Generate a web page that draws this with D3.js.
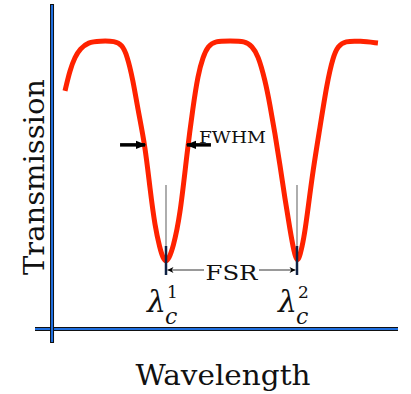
<!DOCTYPE html>
<html>
<head>
<meta charset="utf-8">
<script src="https://cdn.jsdelivr.net/npm/d3@7"></script>
<style>
  body { margin: 0; background: #fff; }
  svg text { font-family: "DejaVu Serif", "Liberation Serif", serif; fill: #111; }
</style>
</head>
<body>
<div id="chart"></div>
<script>
// wavelength (in units of FSR, troughs at 1 and 2)
var wavelength = [0.229, 0.267, 0.305, 0.344, 0.405, 0.496, 0.611, 0.664, 0.702, 0.748,
  0.786, 0.840, 0.878, 0.916, 0.954, 0.977, 1.0, 1.023, 1.053, 1.107,
  1.160, 1.206, 1.244, 1.282, 1.321, 1.374, 1.489, 1.603, 1.656, 1.702,
  1.756, 1.794, 1.832, 1.870, 1.908, 1.947, 1.977, 2.0, 2.023, 2.053,
  2.076, 2.122, 2.176, 2.229, 2.275, 2.313, 2.366, 2.481, 2.618];
var transmission = [0.774, 0.869, 0.928, 0.964, 0.995, 1.0, 1.0, 0.982, 0.937, 0.824,
  0.688, 0.529, 0.330, 0.160, 0.060, 0.018, 0, 0.018, 0.063, 0.204,
  0.493, 0.701, 0.846, 0.928, 0.977, 1.0, 1.0, 1.0, 0.977, 0.937,
  0.824, 0.710, 0.580, 0.440, 0.285, 0.145, 0.045, 0, 0.027, 0.109,
  0.204, 0.416, 0.611, 0.810, 0.928, 0.977, 1.0, 1.0, 0.991];
var resonances = [1, 2];
var resonanceLabels = ["1", "2"];
var fwhmLevel = 0.53;
var fwhmEdges = [0.840, 1.160];

var width = 411, height = 394;

var svg = d3.select("#chart").append("svg")
  .attr("width", width)
  .attr("height", height);

var defs = svg.append("defs");
defs.append("marker")
  .attr("id", "thick")
  .attr("viewBox", "0 0 10 10")
  .attr("refX", 9).attr("refY", 5)
  .attr("markerWidth", 3).attr("markerHeight", 3)
  .attr("markerUnits", "strokeWidth")
  .attr("orient", "auto")
  .append("path").attr("d", "M0,1 L10,5 L0,9 Z").attr("fill", "#000");
defs.append("marker")
  .attr("id", "thin")
  .attr("viewBox", "0 0 10 10")
  .attr("refX", 10).attr("refY", 5)
  .attr("markerWidth", 8).attr("markerHeight", 6)
  .attr("markerUnits", "userSpaceOnUse")
  .attr("orient", "auto-start-reverse")
  .append("path").attr("d", "M0,0 L10,5 L0,10 L3,5 Z").attr("fill", "#000");

///////////////////////
// Scales
var x = d3.scaleLinear().domain([0, 2.771]).range([35, 398]);
var y = d3.scaleLinear().domain([0, 1]).range([262, 41]);

var axisX = 0.13, axisY = -0.303;

///////////////////////
// Axes (blue line with dark outline)
function axisLine(x1, y1, x2, y2) {
  svg.append("line")
    .attr("x1", x1).attr("y1", y1).attr("x2", x2).attr("y2", y2)
    .attr("stroke", "#111").attr("stroke-width", 4);
  svg.append("line")
    .attr("x1", x1).attr("y1", y1 + (y1 == y2 ? 0 : 1)).attr("x2", x2).attr("y2", y2 - (y1 == y2 ? 0 : 1))
    .attr("stroke", "#1f6fe0").attr("stroke-width", 2);
}
axisLine(x(0), y(axisY), x(2.771), y(axisY));
axisLine(x(axisX), 4, x(axisX), 343);

///////////////////////
// Curve
var pts = wavelength.map(function(w, i) { return [w, transmission[i]]; });
var line = d3.line()
  .x(function(d) { return x(d[0]); })
  .y(function(d) { return y(d[1]); })
  .curve(d3.curveBasis);

// resonance markers
resonances.forEach(function(r) {
  svg.append("line")
    .attr("x1", x(r)).attr("x2", x(r))
    .attr("y1", 185).attr("y2", 275)
    .attr("stroke", "#777").attr("stroke-width", 1.2);
});

svg.append("path")
  .datum(pts)
  .attr("d", line)
  .attr("fill", "none")
  .attr("stroke", "#ff2200")
  .attr("stroke-width", 5)
  .attr("stroke-linecap", "butt");

resonances.forEach(function(r) {
  svg.append("line")
    .attr("x1", x(r)).attr("x2", x(r))
    .attr("y1", 246).attr("y2", 275)
    .attr("stroke", "#0e2244").attr("stroke-width", 2.5);
});

// FWHM arrows
svg.append("line")
  .attr("x1", x(fwhmEdges[0]) - 25).attr("x2", x(fwhmEdges[0]))
  .attr("y1", y(fwhmLevel)).attr("y2", y(fwhmLevel))
  .attr("stroke", "#000").attr("stroke-width", 3.5)
  .attr("marker-end", "url(#thick)");
svg.append("line")
  .attr("x1", x(fwhmEdges[1]) + 24).attr("x2", x(fwhmEdges[1]))
  .attr("y1", y(fwhmLevel)).attr("y2", y(fwhmLevel))
  .attr("stroke", "#000").attr("stroke-width", 3.5)
  .attr("marker-end", "url(#thick)");
svg.append("text")
  .attr("x", 199).attr("y", 143)
  .attr("font-size", 17)
  .attr("textLength", 67)
  .attr("lengthAdjust", "spacingAndGlyphs")
  .text("FWHM");

// FSR arrow
svg.append("line")
  .attr("x1", x(resonances[0]) + 1.5).attr("x2", x(resonances[1]) - 1.5)
  .attr("y1", 270).attr("y2", 270)
  .attr("stroke", "#000").attr("stroke-width", 0.8)
  .attr("marker-start", "url(#thin)")
  .attr("marker-end", "url(#thin)");
svg.append("rect")
  .attr("x", 204).attr("y", 260).attr("width", 55).attr("height", 20)
  .attr("fill", "#fff");
svg.append("text")
  .attr("x", x(1.5)).attr("y", 280)
  .attr("text-anchor", "middle")
  .attr("font-size", 21)
  .attr("textLength", 52)
  .attr("lengthAdjust", "spacingAndGlyphs")
  .text("FSR");

// lambda_c labels (one text each, super/subscript as tspans)
resonances.forEach(function(r, i) {
  var t = svg.append("text")
    .attr("x", x(r) - 19).attr("y", 312)
    .attr("font-size", 30);
  t.append("tspan").attr("font-style", "italic").text("λ");
  t.append("tspan").attr("x", x(r) + 1).attr("y", 298)
    .attr("font-size", 17).text(resonanceLabels[i]);
  t.append("tspan").attr("x", x(r) - 1).attr("y", 324)
    .attr("font-size", 22).attr("font-style", "italic").text("c");
});

// axis titles
svg.append("text")
  .attr("x", 223).attr("y", 385)
  .attr("text-anchor", "middle")
  .attr("font-size", 28)
  .attr("textLength", 175)
  .attr("lengthAdjust", "spacingAndGlyphs")
  .text("Wavelength");
svg.append("text")
  .attr("transform", "translate(44,177) rotate(-90)")
  .attr("text-anchor", "middle")
  .attr("font-size", 28)
  .attr("textLength", 196)
  .attr("lengthAdjust", "spacingAndGlyphs")
  .text("Transmission");
</script>
</body>
</html>
